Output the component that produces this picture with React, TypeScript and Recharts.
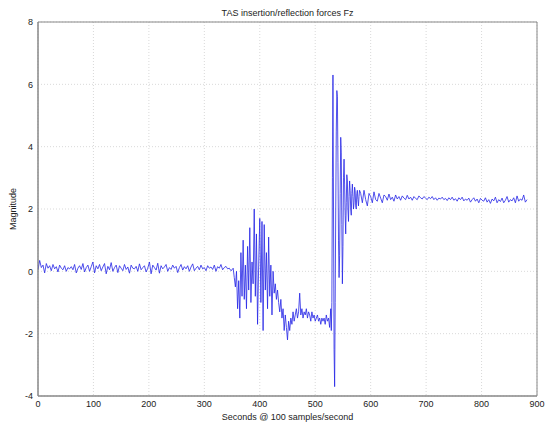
import React from 'react';
import { LineChart, Line, XAxis, YAxis, CartesianGrid, ReferenceArea } from 'recharts';

const quietStart = 0;
const quietStep = 3;
const quietValues = [
  0.05, 0.35, 0.12, 0.2, -0.05, 0.25, 0.1, 0.18, 0.02, 0.22, 0.08, 0.15, -0.02, 0.2, 0.1, 0.05, 0.18, 0.0, 0.12, 0.08,
  0.15, 0.05, 0.22, -0.05, 0.1, 0.18, 0.06, 0.25, -0.02, 0.12, 0.2, 0.0, 0.15, 0.3, -0.05, 0.18, 0.08, 0.22, 0.02, 0.14,
  0.25, -0.08, 0.16, 0.05, 0.28, 0.0, 0.12, 0.2, -0.04, 0.18, 0.1, 0.02, 0.22, 0.06, 0.14, -0.06, 0.2, 0.1, 0.08, 0.16,
  0.0, 0.24, 0.05, 0.12, 0.18, -0.02, 0.1, 0.3, -0.08, 0.2, 0.12, 0.04, 0.26, -0.06, 0.18, 0.08, 0.14, 0.22, 0.0, 0.12,
  0.06, 0.2, 0.1, 0.16, -0.04, 0.12, 0.22, 0.04, 0.15, 0.08, 0.18, 0.0, 0.14, 0.24, 0.02, 0.1, 0.16, 0.05, 0.2, 0.08,
  0.12, 0.02, 0.18, 0.1, 0.14, 0.06, 0.2, 0.0, 0.15, 0.1, 0.22, 0.05, 0.12, 0.16, 0.08, 0.1, 0.02,
];

const insertionStart = 350;
const insertionStep = 2;
const insertionValues = [
  0.05, 0.1, -0.2, -0.5, 0.0, -1.2, -0.3, -1.5, 0.6, -0.8,
  1.0, -0.9, 0.2, -1.2, 0.8, -0.6, 1.4, -1.0, 0.3, -0.4,
  2.0, -0.8, 1.2, -1.7, 0.2, 1.7, -1.0, 1.6, -1.9, 1.5,
  -0.6, 0.6, -1.2, 1.1, -0.8, 0.2, -1.4, 0.0, -0.7, -0.4,
  -0.9, -0.6, -1.0, -1.3, -0.9, -1.5, -1.2, -1.9, -1.4, -1.8,
  -2.2, -1.6, -1.9, -1.5, -1.7, -1.3, -1.6, -1.4, -1.2, -1.5,
  -1.3, -0.7, -1.4, -1.2, -1.5, -1.3, -1.4, -1.2, -1.5, -1.3,
  -1.4, -1.6, -1.3, -1.5, -1.4, -1.6, -1.5, -1.4, -1.6, -1.5,
  -1.7, -1.5, -1.6, -1.5, -1.7, -1.4, -1.6, -1.5, -1.8, -1.2,
];

const reflectionStart = 529;
const reflectionStep = 1;
const reflectionValues = [
  -1.9, -1.0, 3.0, 6.3, 2.0, -2.5, -3.7, -1.0, 2.0, 4.5,
  5.8, 5.6, 3.5, 1.0, -0.2, 0.5, 2.5, 4.3, 3.8, 1.5,
  -0.4, 0.8, 3.0, 3.6, 2.8, 1.8, 1.2, 2.2, 3.1, 2.9,
  2.0, 1.6, 2.4, 2.9, 2.6, 2.0, 1.8, 2.5, 2.8, 2.4,
  2.0, 2.2, 2.7, 2.6, 2.1, 2.0, 2.5, 2.6, 2.3, 2.1,
  2.4, 2.6,
];

const settledStart = 582;
const settledStep = 3;
const settledValues = [
  2.5, 2.2, 2.6, 2.3, 2.1, 2.5, 2.4, 2.2, 2.55, 2.3,
  2.25, 2.5, 2.35, 2.2, 2.45, 2.4, 2.28, 2.48, 2.3, 2.38,
  2.25, 2.45, 2.32, 2.4, 2.28, 2.42, 2.35, 2.3, 2.44, 2.32,
  2.38, 2.28, 2.4, 2.34, 2.3, 2.42, 2.36, 2.32, 2.4, 2.35,
  2.3, 2.38, 2.33, 2.4, 2.3, 2.36, 2.28, 2.35, 2.32, 2.38,
  2.3, 2.34, 2.27, 2.36, 2.3, 2.38, 2.28, 2.33, 2.25, 2.36,
  2.3, 2.38, 2.26, 2.32, 2.28, 2.35, 2.22, 2.3, 2.36, 2.25,
  2.32, 2.2, 2.34, 2.28, 2.25, 2.36, 2.22, 2.3, 2.18, 2.32,
  2.26, 2.38, 2.2, 2.3, 2.24, 2.35, 2.2, 2.28, 2.4, 2.22,
  2.3, 2.26, 2.36, 2.2, 2.42, 2.25, 2.32, 2.28, 2.45, 2.22,
  2.3,
];

const xTicks = [0, 100, 200, 300, 400, 500, 600, 700, 800, 900];
const yTicks = [-4, -2, 0, 2, 4, 6, 8];

const segments: [number, number, number[]][] = [
  [quietStart, quietStep, quietValues],
  [insertionStart, insertionStep, insertionValues],
  [reflectionStart, reflectionStep, reflectionValues],
  [settledStart, settledStep, settledValues],
];

const data = segments.flatMap(([start, step, vals]) =>
  vals.map((v, i) => ({ x: start + i * step, y: v }))
);

const font = '"Liberation Sans", Arial, sans-serif';

export default function App() {
  return (
    <div style={{ position: 'absolute', left: 0, top: 0, width: 545, height: 423, background: '#fff', fontFamily: font }}>
      <div
        style={{
          position: 'absolute',
          top: 7,
          left: 38,
          width: 499,
          textAlign: 'center',
          fontSize: 9,
          color: '#222',
          lineHeight: '12px',
        }}
      >
        TAS insertion/reflection forces Fz
      </div>
      <LineChart width={545} height={423} data={data} margin={{ top: 22, right: 8, left: 0, bottom: 0 }}>
        <CartesianGrid stroke="#c8c8c8" strokeDasharray="1 2" strokeWidth={0.7} />
        <XAxis
          dataKey="x"
          type="number"
          domain={[0, 900]}
          ticks={xTicks}
          height={27}
          tickSize={0}
          tickMargin={5}
          axisLine={{ stroke: '#888' }}
          tick={{ fontSize: 9, fill: '#222', fontFamily: font }}
          allowDataOverflow
          label={{ value: 'Seconds @ 100 samples/second', position: 'insideBottom', offset: 3, fontSize: 9, fill: '#222', fontFamily: font }}
        />
        <YAxis
          type="number"
          domain={[-4, 8]}
          ticks={yTicks}
          width={38}
          tickSize={0}
          tickMargin={5}
          axisLine={{ stroke: '#888' }}
          tick={{ fontSize: 9, fill: '#222', fontFamily: font }}
          allowDataOverflow
          label={{ value: 'Magnitude', angle: -90, position: 'insideLeft', offset: 13, fontSize: 9, fill: '#222', fontFamily: font, style: { textAnchor: 'middle' } }}
        />
        <ReferenceArea x1={0} x2={900} y1={-4} y2={8} fill="none" stroke="#888" strokeWidth={1} ifOverflow="visible" />
        <Line
          type="linear"
          dataKey="y"
          stroke="#2424e6"
          strokeWidth={0.8}
          dot={false}
          isAnimationActive={false}
        />
      </LineChart>
    </div>
  );
}
